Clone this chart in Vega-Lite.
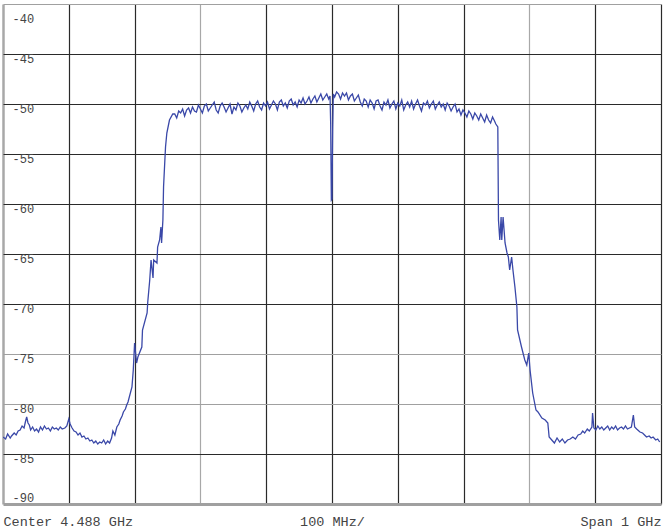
{
  "$schema": "https://vega.github.io/schema/vega-lite/v6.json",
  "width": 658,
  "height": 500,
  "autosize": {"type": "none"},
  "padding": {"left": 3, "top": 4, "right": 6, "bottom": 28},
  "background": "white",
  "config": {"view": {"stroke": null}},
  "data": {"values": [
    {"f": 3988, "p": -83.3}, {"f": 3992, "p": -83.5}, {"f": 3995, "p": -83.0}, {"f": 3999, "p": -83.4}, {"f": 4001, "p": -83.2},
    {"f": 4005, "p": -82.9}, {"f": 4008, "p": -83.1}, {"f": 4011, "p": -82.7}, {"f": 4014, "p": -82.6}, {"f": 4017, "p": -82.2},
    {"f": 4020, "p": -82.4}, {"f": 4022, "p": -81.8}, {"f": 4024, "p": -81.3}, {"f": 4026, "p": -81.9}, {"f": 4028, "p": -82.1},
    {"f": 4030, "p": -82.6}, {"f": 4033, "p": -82.3}, {"f": 4036, "p": -82.7}, {"f": 4039, "p": -82.5}, {"f": 4042, "p": -82.8},
    {"f": 4045, "p": -82.3}, {"f": 4048, "p": -82.6}, {"f": 4051, "p": -82.2}, {"f": 4054, "p": -82.5}, {"f": 4057, "p": -82.4},
    {"f": 4060, "p": -82.7}, {"f": 4063, "p": -82.3}, {"f": 4066, "p": -82.5}, {"f": 4069, "p": -82.4}, {"f": 4072, "p": -82.6},
    {"f": 4075, "p": -82.3}, {"f": 4078, "p": -82.5}, {"f": 4082, "p": -82.4}, {"f": 4085, "p": -82.2}, {"f": 4088, "p": -81.5},
    {"f": 4090, "p": -82.0}, {"f": 4093, "p": -82.4}, {"f": 4096, "p": -82.7}, {"f": 4099, "p": -82.8}, {"f": 4102, "p": -83.1},
    {"f": 4105, "p": -82.9}, {"f": 4108, "p": -83.3}, {"f": 4111, "p": -83.2}, {"f": 4114, "p": -83.5}, {"f": 4117, "p": -83.4},
    {"f": 4120, "p": -83.7}, {"f": 4123, "p": -83.6}, {"f": 4126, "p": -83.9}, {"f": 4129, "p": -83.7}, {"f": 4132, "p": -84.0},
    {"f": 4135, "p": -83.8}, {"f": 4138, "p": -83.9}, {"f": 4141, "p": -83.6}, {"f": 4144, "p": -84.0}, {"f": 4147, "p": -83.7},
    {"f": 4150, "p": -83.9}, {"f": 4153, "p": -83.4}, {"f": 4155, "p": -82.7}, {"f": 4158, "p": -83.1}, {"f": 4161, "p": -82.3},
    {"f": 4164, "p": -82.0}, {"f": 4166, "p": -81.6}, {"f": 4169, "p": -81.2}, {"f": 4171, "p": -80.8}, {"f": 4174, "p": -80.5},
    {"f": 4176, "p": -80.1}, {"f": 4178, "p": -79.8}, {"f": 4184, "p": -78.3}, {"f": 4186, "p": -76.6}, {"f": 4188, "p": -73.9},
    {"f": 4191, "p": -75.9}, {"f": 4193, "p": -75.3}, {"f": 4199, "p": -74.3}, {"f": 4200, "p": -72.6}, {"f": 4207, "p": -70.9},
    {"f": 4208, "p": -69.8}, {"f": 4211, "p": -67.6}, {"f": 4213, "p": -65.6}, {"f": 4216, "p": -67.4}, {"f": 4217, "p": -65.6},
    {"f": 4222, "p": -65.9}, {"f": 4223, "p": -64.3}, {"f": 4226, "p": -63.6}, {"f": 4228, "p": -62.3}, {"f": 4229, "p": -63.9},
    {"f": 4231, "p": -61.6}, {"f": 4232, "p": -58.3}, {"f": 4234, "p": -55.6}, {"f": 4235, "p": -54.3}, {"f": 4237, "p": -52.9},
    {"f": 4241, "p": -51.6}, {"f": 4246, "p": -51.0},
    {"f": 4249, "p": -51.0}, {"f": 4252, "p": -51.4}, {"f": 4255, "p": -50.7}, {"f": 4258, "p": -50.9}, {"f": 4261, "p": -50.5},
    {"f": 4264, "p": -51.2}, {"f": 4267, "p": -50.6}, {"f": 4270, "p": -50.4}, {"f": 4273, "p": -50.9}, {"f": 4276, "p": -50.3},
    {"f": 4279, "p": -50.7}, {"f": 4282, "p": -50.8}, {"f": 4285, "p": -50.1}, {"f": 4288, "p": -50.5}, {"f": 4291, "p": -50.9},
    {"f": 4294, "p": -50.2}, {"f": 4297, "p": -50.0}, {"f": 4300, "p": -50.7}, {"f": 4303, "p": -50.4}, {"f": 4306, "p": -50.1},
    {"f": 4309, "p": -49.8}, {"f": 4312, "p": -50.6}, {"f": 4315, "p": -50.9}, {"f": 4318, "p": -50.2}, {"f": 4321, "p": -49.9},
    {"f": 4324, "p": -50.3}, {"f": 4327, "p": -50.8}, {"f": 4330, "p": -50.4}, {"f": 4333, "p": -50.0}, {"f": 4336, "p": -51.0},
    {"f": 4339, "p": -50.3}, {"f": 4342, "p": -50.6}, {"f": 4345, "p": -49.9}, {"f": 4348, "p": -50.2}, {"f": 4351, "p": -50.8},
    {"f": 4354, "p": -50.4}, {"f": 4357, "p": -50.1}, {"f": 4360, "p": -50.5}, {"f": 4363, "p": -49.8}, {"f": 4366, "p": -50.2},
    {"f": 4369, "p": -50.7}, {"f": 4372, "p": -50.0}, {"f": 4375, "p": -49.7}, {"f": 4378, "p": -50.3}, {"f": 4381, "p": -50.6},
    {"f": 4384, "p": -49.9}, {"f": 4387, "p": -50.2}, {"f": 4390, "p": -49.8}, {"f": 4393, "p": -50.5}, {"f": 4396, "p": -50.1},
    {"f": 4399, "p": -49.7}, {"f": 4402, "p": -50.0}, {"f": 4405, "p": -50.6}, {"f": 4408, "p": -49.8}, {"f": 4411, "p": -49.6},
    {"f": 4414, "p": -50.2}, {"f": 4417, "p": -49.9}, {"f": 4420, "p": -50.4}, {"f": 4423, "p": -49.7}, {"f": 4426, "p": -49.5},
    {"f": 4429, "p": -50.1}, {"f": 4432, "p": -49.8}, {"f": 4435, "p": -50.3}, {"f": 4438, "p": -49.6}, {"f": 4441, "p": -49.9},
    {"f": 4444, "p": -49.4}, {"f": 4447, "p": -50.0}, {"f": 4450, "p": -49.7}, {"f": 4453, "p": -49.3}, {"f": 4456, "p": -49.9},
    {"f": 4459, "p": -49.5}, {"f": 4462, "p": -49.2}, {"f": 4465, "p": -49.8}, {"f": 4468, "p": -49.4}, {"f": 4471, "p": -49.0},
    {"f": 4474, "p": -49.6}, {"f": 4477, "p": -49.3}, {"f": 4480, "p": -49.0}, {"f": 4483, "p": -49.5}, {"f": 4485, "p": -49.2},
    {"f": 4486, "p": -52.0}, {"f": 4487, "p": -59.6}, {"f": 4488, "p": -59.5}, {"f": 4489, "p": -52.5}, {"f": 4490, "p": -49.0},
    {"f": 4492, "p": -49.3}, {"f": 4495, "p": -48.8}, {"f": 4498, "p": -49.0}, {"f": 4501, "p": -49.5}, {"f": 4504, "p": -48.9},
    {"f": 4507, "p": -49.2}, {"f": 4510, "p": -48.9}, {"f": 4513, "p": -49.6}, {"f": 4516, "p": -49.2}, {"f": 4519, "p": -49.0},
    {"f": 4522, "p": -49.7}, {"f": 4525, "p": -49.4}, {"f": 4528, "p": -49.1}, {"f": 4531, "p": -49.8}, {"f": 4534, "p": -50.2},
    {"f": 4537, "p": -49.5}, {"f": 4540, "p": -49.7}, {"f": 4543, "p": -50.3}, {"f": 4546, "p": -49.6}, {"f": 4549, "p": -49.9},
    {"f": 4552, "p": -50.5}, {"f": 4555, "p": -49.7}, {"f": 4558, "p": -49.6}, {"f": 4561, "p": -50.2}, {"f": 4564, "p": -50.6},
    {"f": 4567, "p": -49.8}, {"f": 4570, "p": -50.1}, {"f": 4573, "p": -49.6}, {"f": 4576, "p": -50.4}, {"f": 4579, "p": -50.0},
    {"f": 4582, "p": -49.7}, {"f": 4585, "p": -50.5}, {"f": 4588, "p": -49.9}, {"f": 4591, "p": -50.2}, {"f": 4594, "p": -49.6},
    {"f": 4597, "p": -50.6}, {"f": 4600, "p": -50.1}, {"f": 4603, "p": -49.8}, {"f": 4606, "p": -50.3}, {"f": 4609, "p": -49.7},
    {"f": 4612, "p": -50.5}, {"f": 4615, "p": -50.0}, {"f": 4618, "p": -49.6}, {"f": 4621, "p": -50.2}, {"f": 4624, "p": -50.7},
    {"f": 4627, "p": -49.9}, {"f": 4630, "p": -50.1}, {"f": 4633, "p": -49.7}, {"f": 4636, "p": -50.4}, {"f": 4639, "p": -50.0},
    {"f": 4642, "p": -49.7}, {"f": 4645, "p": -50.5}, {"f": 4648, "p": -50.1}, {"f": 4651, "p": -49.8}, {"f": 4654, "p": -50.3},
    {"f": 4657, "p": -50.0}, {"f": 4660, "p": -50.6}, {"f": 4663, "p": -49.9}, {"f": 4666, "p": -50.2}, {"f": 4669, "p": -50.7},
    {"f": 4672, "p": -50.3}, {"f": 4675, "p": -50.0}, {"f": 4678, "p": -50.8}, {"f": 4681, "p": -50.5}, {"f": 4684, "p": -51.1},
    {"f": 4687, "p": -50.6}, {"f": 4690, "p": -50.9}, {"f": 4693, "p": -51.3}, {"f": 4696, "p": -50.7}, {"f": 4699, "p": -51.0},
    {"f": 4702, "p": -51.5}, {"f": 4705, "p": -50.9}, {"f": 4708, "p": -51.2}, {"f": 4711, "p": -51.6}, {"f": 4714, "p": -51.0},
    {"f": 4717, "p": -51.4}, {"f": 4720, "p": -51.8}, {"f": 4723, "p": -51.1}, {"f": 4726, "p": -51.6}, {"f": 4729, "p": -51.9},
    {"f": 4732, "p": -51.3}, {"f": 4735, "p": -51.7}, {"f": 4737, "p": -52.0},
    {"f": 4740, "p": -52.3}, {"f": 4741, "p": -61.6}, {"f": 4743, "p": -63.6}, {"f": 4745, "p": -61.3}, {"f": 4746, "p": -63.6},
    {"f": 4748, "p": -61.3}, {"f": 4751, "p": -63.9}, {"f": 4754, "p": -64.9}, {"f": 4756, "p": -65.3}, {"f": 4758, "p": -66.6},
    {"f": 4761, "p": -65.3}, {"f": 4763, "p": -66.6}, {"f": 4766, "p": -68.3}, {"f": 4769, "p": -70.3}, {"f": 4770, "p": -72.6},
    {"f": 4776, "p": -74.3}, {"f": 4781, "p": -75.6}, {"f": 4784, "p": -76.1}, {"f": 4787, "p": -74.9}, {"f": 4789, "p": -76.6},
    {"f": 4793, "p": -78.9}, {"f": 4798, "p": -80.6}, {"f": 4801, "p": -80.8}, {"f": 4807, "p": -81.4}, {"f": 4812, "p": -81.6},
    {"f": 4816, "p": -81.9}, {"f": 4818, "p": -83.3}, {"f": 4822, "p": -83.6}, {"f": 4826, "p": -83.9}, {"f": 4830, "p": -83.4},
    {"f": 4834, "p": -83.8}, {"f": 4838, "p": -83.5}, {"f": 4842, "p": -83.9}, {"f": 4846, "p": -83.6}, {"f": 4850, "p": -83.5},
    {"f": 4854, "p": -83.3}, {"f": 4858, "p": -83.5}, {"f": 4862, "p": -83.1}, {"f": 4866, "p": -83.0}, {"f": 4869, "p": -82.7},
    {"f": 4872, "p": -82.9}, {"f": 4876, "p": -82.5}, {"f": 4879, "p": -82.7}, {"f": 4883, "p": -82.3}, {"f": 4884, "p": -80.9},
    {"f": 4886, "p": -82.4}, {"f": 4889, "p": -82.6}, {"f": 4892, "p": -82.2}, {"f": 4895, "p": -82.5}, {"f": 4898, "p": -82.3},
    {"f": 4901, "p": -82.6}, {"f": 4904, "p": -82.4}, {"f": 4907, "p": -82.2}, {"f": 4910, "p": -82.6}, {"f": 4913, "p": -82.3},
    {"f": 4916, "p": -82.5}, {"f": 4919, "p": -82.2}, {"f": 4922, "p": -82.6}, {"f": 4925, "p": -82.4}, {"f": 4928, "p": -82.3},
    {"f": 4931, "p": -82.5}, {"f": 4934, "p": -82.2}, {"f": 4937, "p": -82.5}, {"f": 4943, "p": -82.3}, {"f": 4946, "p": -81.1},
    {"f": 4948, "p": -82.3}, {"f": 4951, "p": -82.5}, {"f": 4956, "p": -82.8}, {"f": 4960, "p": -82.9}, {"f": 4963, "p": -83.1},
    {"f": 4966, "p": -83.3}, {"f": 4970, "p": -83.2}, {"f": 4973, "p": -83.4}, {"f": 4976, "p": -83.3}, {"f": 4980, "p": -83.6},
    {"f": 4983, "p": -83.5}, {"f": 4986, "p": -83.8}
  ]},
  "mark": {"type": "line", "color": "#3a48a8", "strokeWidth": 1.3, "clip": true},
  "encoding": {
    "x": {
      "field": "f", "type": "quantitative",
      "scale": {"domain": [3988, 4988], "nice": false, "zero": false},
      "axis": {
        "title": null,
        "values": [3988, 4088, 4188, 4288, 4388, 4488, 4588, 4688, 4788, 4888, 4988],
        "labelExpr": "datum.value == 3988 ? ' Center  4.488 GHz' : datum.value == 4488 ? '100 MHz/' : datum.value == 4988 ? 'Span  1 GHz' : ''",
        "labelFlush": true,
        "labelFont": "Liberation Mono",
        "labelFontSize": 13.5,
        "labelColor": "#444",
        "labelPadding": 10,
        "ticks": false,
        "tickSize": 0,
        "domain": false,
        "grid": true,
        "gridColor": {"condition": {"test": "datum.value == 3988 || datum.value == 4288 || datum.value == 4788", "value": "#a8a8a8"}, "value": "#2a2a2a"},
        "gridWidth": {"condition": {"test": "datum.value == 3988", "value": 2.5}, "value": 1.2},
        "gridOpacity": 1
      }
    },
    "y": {
      "field": "p", "type": "quantitative",
      "scale": {"domain": [-90, -40], "nice": false, "zero": false},
      "axis": {
        "title": null,
        "values": [-90, -85, -80, -75, -70, -65, -60, -55, -50, -45, -40],
        "labelExpr": "'' + datum.value",
        "labelFont": "Liberation Mono",
        "labelFontSize": 12,
        "labelColor": "#444",
        "labelAlign": "left",
        "labelBaseline": "middle",
        "labelPadding": -9,
        "labelOffset": {"condition": [{"test": "datum.value == -40", "value": 14}, {"test": "datum.value == -90", "value": -7}], "value": 4},
        "ticks": false,
        "tickSize": 0,
        "domain": false,
        "grid": true,
        "gridColor": {"condition": {"test": "datum.value == -40 || datum.value == -90 || datum.value == -80 || datum.value == -75", "value": "#a0a0a0"}, "value": "#2a2a2a"},
        "gridWidth": {"condition": {"test": "datum.value == -90", "value": 3}, "value": 1.2},
        "gridOpacity": 1
      }
    }
  }
}
